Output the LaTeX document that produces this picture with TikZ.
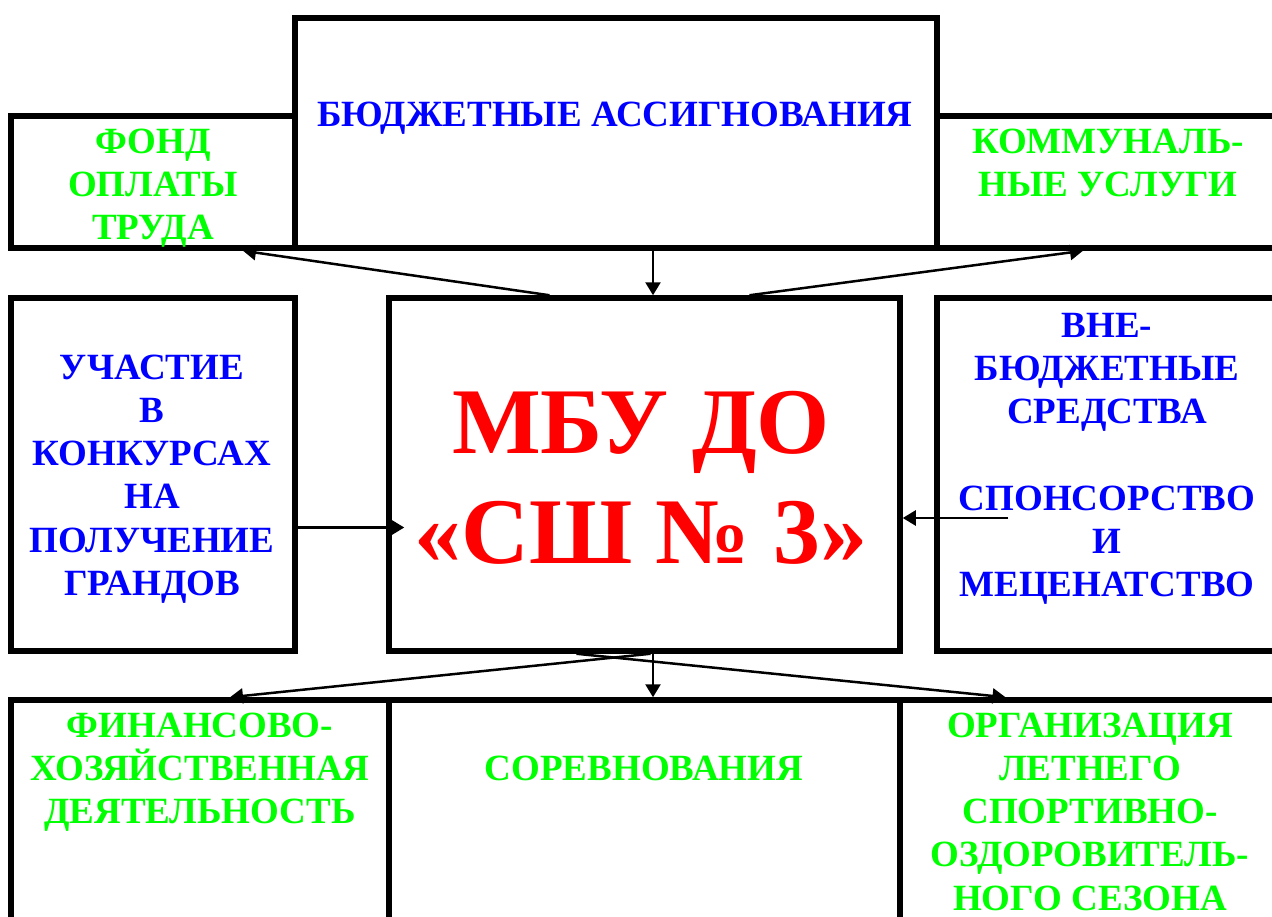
\documentclass[tikz,border=0pt]{standalone}
\usepackage{fontspec}
\setmainfont{Liberation Serif}
\usetikzlibrary{arrows.meta}
\definecolor{tblue}{RGB}{0,0,255}
\definecolor{tgreen}{RGB}{0,255,0}
\definecolor{tred}{RGB}{255,0,0}
\tikzset{
  box/.style={draw, line width=5.5pt, inner sep=0pt, minimum width=#1},
  box/.default=10pt,
  txt/.style={anchor=north, align=center, inner sep=0pt,
    font=\fontsize{37}{43.2}\selectfont\bfseries},
  conn/.style={line width=2.5pt, -{Triangle[length=13pt,width=15pt]}},
}
\newcommand{\firstline}{\rule{0pt}{34pt}}
\begin{document}
\begin{tikzpicture}[x=1pt,y=-1pt]
\useasboundingbox (0,0) rectangle (1272,916);
% boxes
\node[box=642pt, minimum height=230pt] (ba) at (616,133) {};
\node[box=284pt, minimum height=132pt] (fot) at (153,182) {};
\node[box=348pt, minimum height=132pt] (ku) at (1111,182) {};
\node[box=284pt, minimum height=353pt] (uk) at (153,474.5) {};
\node[box=511pt, minimum height=353pt] (mbu) at (644.5,474.5) {};
\node[box=348pt, minimum height=353pt] (vs) at (1111,474.5) {};
\node[box=378pt, minimum height=235pt] (fhd) at (200,817.5) {};
\node[box=511pt, minimum height=235pt] (sor) at (644.5,817.5) {};
\node[box=385pt, minimum height=235pt] (org) at (1092.5,817.5) {};
% texts
\node[txt, text=tblue] (tba) at (615,92) {\firstline БЮДЖЕТНЫЕ АССИГНОВАНИЯ};
\node[txt, text=tgreen] (tfot) at (153,119) {\firstline ФОНД\\ОПЛАТЫ\\ТРУДА};
\node[txt, text=tgreen] (tku) at (1108,119) {\firstline КОММУНАЛЬ-\\НЫЕ УСЛУГИ};
\node[txt, text=tblue] (tuk) at (152,345) {\firstline УЧАСТИЕ\\В\\КОНКУРСАХ\\НА\\ПОЛУЧЕНИЕ\\ГРАНДОВ};
\node[txt, text=tblue] (tvs) at (1107,303) {\firstline ВНЕ-\\БЮДЖЕТНЫЕ\\СРЕДСТВА\\[43.2pt]СПОНСОРСТВО\\И\\МЕЦЕНАТСТВО};
\node[txt, text=tred, font=\fontsize{94}{110}\selectfont\bfseries] (tmbu) at (641,373) {\rule{0pt}{80pt}МБУ ДО\\«СШ № 3»};
\node[txt, text=tgreen] (tfhd) at (200,703) {\firstline ФИНАНСОВО-\\ХОЗЯЙСТВЕННАЯ\\ДЕЯТЕЛЬНОСТЬ};
\node[txt, text=tgreen] (tsor) at (644,746) {\firstline СОРЕВНОВАНИЯ};
\node[txt, text=tgreen] (torg) at (1090,703) {\firstline ОРГАНИЗАЦИЯ\\ЛЕТНЕГО\\СПОРТИВНО-\\ОЗДОРОВИТЕЛЬ-\\НОГО СЕЗОНА};
% connectors
\draw[conn] ([xshift=-95pt]mbu.north) -- ([xshift=90pt]fot.south);
\draw[conn] ([xshift=37pt]ba.south) -- ([xshift=8.5pt]mbu.north);
\draw[conn] ([xshift=105pt]mbu.north) -- ([xshift=-28pt]ku.south);
\draw[conn] ([xshift=6pt]mbu.south) -- ([xshift=30pt]fhd.north);
\draw[conn] ([xshift=8.5pt]mbu.south) -- ([xshift=8.5pt]sor.north);
\draw[conn] ([xshift=-68pt]mbu.south) -- ([xshift=-87pt]org.north);
\draw[conn] ([shift={(-6pt,-53pt)}]uk.east) -- ([shift={(18pt,-53pt)}]mbu.west);
\draw[conn] ([shift={(74pt,-43.5pt)}]vs.west) -- ([shift={(0pt,-43.5pt)}]mbu.east);
\end{tikzpicture}
\end{document}
